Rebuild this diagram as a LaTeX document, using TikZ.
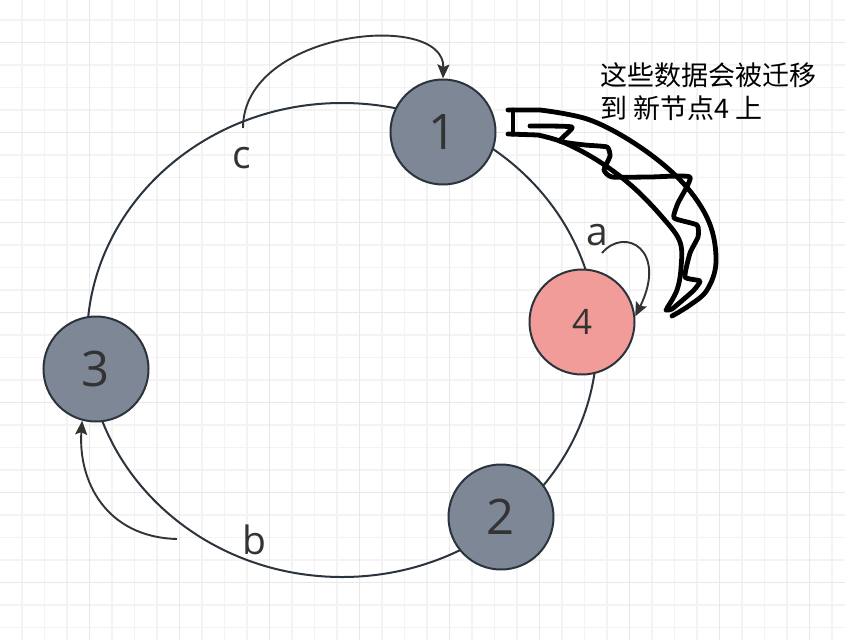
\documentclass[tikz,border=0pt]{standalone}
\usepackage{fontspec}
\setmainfont{Open Sans}
\newfontfamily\cjk{Noto Sans CJK SC}
\usetikzlibrary{arrows.meta}
\definecolor{gridminor}{HTML}{F3F3F3}
\definecolor{gridmajor}{HTML}{E8E8E8}
\definecolor{ringcol}{HTML}{2B333D}
\definecolor{nodegray}{HTML}{7D8796}
\definecolor{nodepink}{HTML}{F19C99}
\definecolor{txtcol}{HTML}{333333}
\tikzset{
  ring/.style={draw=ringcol, line width=2pt},
  gnode/.style={circle, draw=ringcol, line width=2pt, fill=nodegray, minimum size=105pt, inner sep=0pt, text=txtcol, font=\fontsize{49}{55}\selectfont},
  pnode/.style={circle, draw=ringcol, line width=2pt, fill=nodepink, minimum size=105pt, inner sep=0pt, text=txtcol, font=\fontsize{35}{40}\selectfont},
  lbl/.style={inner sep=0pt, text=txtcol, font=\fontsize{39}{42}\selectfont},
  arr/.style={draw=txtcol, line width=1.9pt, -{Stealth[length=14pt, width=12pt, inset=2.5pt]}},
  scrib/.style={draw=black, line width=4.8pt, line join=round, line cap=round},
}
\begin{document}
\begin{tikzpicture}[x=1pt, y=-1pt]
\useasboundingbox (0,0) rectangle (845,640);
\fill[white] (0,0) rectangle (845,640);
\begin{scope}
\clip (0,0) rectangle (845,640);
\foreach \x in {-0.5,22,...,846} \draw[gridminor, line width=1.1pt] (\x,0) -- (\x,640);
\foreach \y in {-2.5,20,...,641} \draw[gridminor, line width=1.1pt] (0,\y) -- (845,\y);
\foreach \x in {-0.5,89.5,...,846} \draw[gridmajor, line width=1.5pt] (\x,0) -- (\x,640);
\foreach \y in {42.5,132.5,...,641} \draw[gridmajor, line width=1.5pt] (0,\y) -- (845,\y);
\end{scope}

% ring
\draw[ring] (342,340) ellipse [x radius=255pt, y radius=237pt];

% nodes
\node[gnode] (n1) at (443,132) {1};
\node[gnode] (n2) at (501,517) {2};
\node[gnode] (n3) at (96,369) {3};
\node[pnode] (n4) at (582,322) {4};

% labels
\node[lbl] (lc) at (242,158) {c};
\node[lbl] (lb) at (254,540) {b};
\node[lbl] (la) at (597,235) {a};

% arrows
\coordinate (cs) at (243,128);
\coordinate (as) at (602,253);
\coordinate (bs) at (177,539);
\draw[arr] (cs) .. controls (243,30) and (445,10) .. (n1.north);
\draw[arr] (as) .. controls (625,226) and (668,250) .. (n4.6);
\draw[arr] (bs) .. controls (105,537) and (78,480) .. (n3.-105);

% note text
\node[anchor=north west, inner sep=0pt, align=left, font=\cjk\fontsize{27}{33}\selectfont] (note) at (600,62) {这些数据会被迁移\\到 新节点4 上};

% scribble
\draw[scrib] (508,110) -- (540,110)
  plot[smooth, tension=0.6] coordinates {(540,110) (590,120) (640,147) (683,183) (709,222) (716,262) (707,290) (690,305) (672,316)};
\draw[scrib] (513,110) -- (513,134);
\draw[scrib] (508,134) -- (538,135)
  plot[smooth, tension=0.6] coordinates {(538,135) (565,143) (600,162) (633,187) (663,218) (680,242) (681,268) (677,290) (667,308)};
\draw[scrib] plot[smooth, tension=0.3] coordinates {(530,126) (572,127) (560,141) (585,145) (607,147) (610,156) (604,170) (612,177) (650,177) (690,177)
  (678,203) (674,218) (697,225) (698,237) (690,253) (685,277) (700,281) (693,291) (672,309) (666,310)};
\end{tikzpicture}
\end{document}
